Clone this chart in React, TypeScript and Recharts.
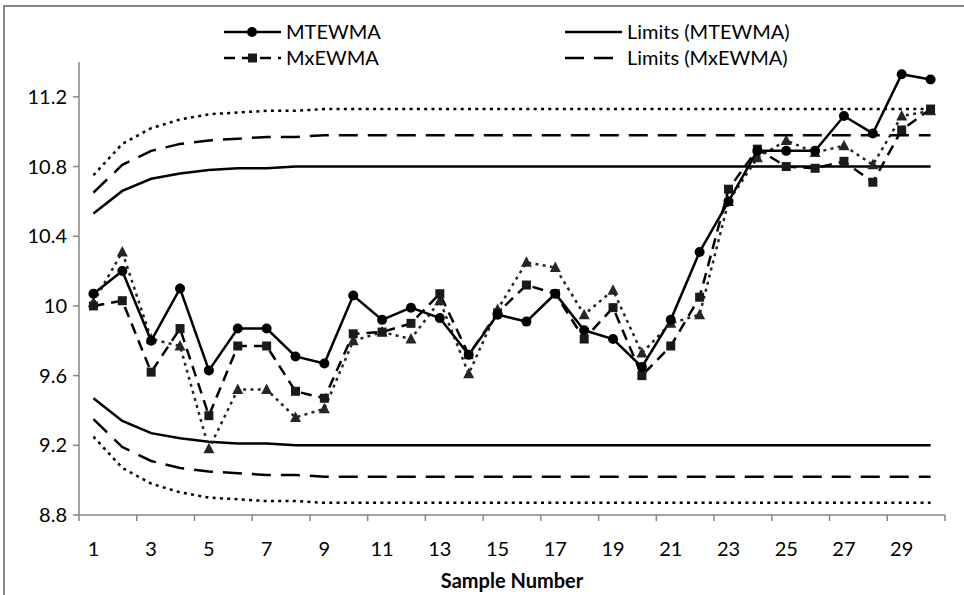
import { Legend, Line, LineChart, XAxis, YAxis } from "recharts";

const samples = [
  1, 2, 3, 4, 5, 6, 7, 8, 9, 10, 11, 12, 13, 14, 15, 16, 17, 18, 19, 20, 21,
  22, 23, 24, 25, 26, 27, 28, 29, 30,
];

const mtewma = [
  10.07, 10.2, 9.8, 10.1, 9.63, 9.87, 9.87, 9.71, 9.67, 10.06, 9.92, 9.99,
  9.93, 9.72, 9.95, 9.91, 10.07, 9.86, 9.81, 9.65, 9.92, 10.31, 10.6, 10.89,
  10.89, 10.89, 11.09, 10.99, 11.33, 11.3,
];

const mxewma = [
  10.0, 10.03, 9.62, 9.87, 9.37, 9.77, 9.77, 9.51, 9.47, 9.84, 9.85, 9.9,
  10.07, 9.72, 9.96, 10.12, 10.07, 9.81, 9.99, 9.6, 9.77, 10.05, 10.67, 10.9,
  10.8, 10.79, 10.83, 10.71, 11.01, 11.13,
];

// dotted series with triangles (not listed in the legend)
const mewma = [
  10.02, 10.31, 9.81, 9.77, 9.18, 9.52, 9.52, 9.36, 9.41, 9.8, 9.85, 9.81,
  10.03, 9.61, 9.98, 10.25, 10.22, 9.95, 10.09, 9.73, 9.9, 9.95, 10.6, 10.85,
  10.95, 10.88, 10.92, 10.81, 11.09, 11.12,
];

const uclMtewma = [
  10.53, 10.66, 10.73, 10.76, 10.78, 10.79, 10.79, 10.8, 10.8, 10.8, 10.8,
  10.8, 10.8, 10.8, 10.8, 10.8, 10.8, 10.8, 10.8, 10.8, 10.8, 10.8, 10.8, 10.8,
  10.8, 10.8, 10.8, 10.8, 10.8, 10.8,
];
const lclMtewma = [
  9.47, 9.34, 9.27, 9.24, 9.22, 9.21, 9.21, 9.2, 9.2, 9.2, 9.2, 9.2, 9.2, 9.2,
  9.2, 9.2, 9.2, 9.2, 9.2, 9.2, 9.2, 9.2, 9.2, 9.2, 9.2, 9.2, 9.2, 9.2, 9.2,
  9.2,
];
const uclMxewma = [
  10.65, 10.81, 10.89, 10.93, 10.95, 10.96, 10.97, 10.97, 10.98, 10.98, 10.98,
  10.98, 10.98, 10.98, 10.98, 10.98, 10.98, 10.98, 10.98, 10.98, 10.98, 10.98,
  10.98, 10.98, 10.98, 10.98, 10.98, 10.98, 10.98, 10.98,
];
const lclMxewma = [
  9.35, 9.19, 9.11, 9.07, 9.05, 9.04, 9.03, 9.03, 9.02, 9.02, 9.02, 9.02, 9.02,
  9.02, 9.02, 9.02, 9.02, 9.02, 9.02, 9.02, 9.02, 9.02, 9.02, 9.02, 9.02, 9.02,
  9.02, 9.02, 9.02, 9.02,
];
const uclMewma = [
  10.75, 10.93, 11.02, 11.07, 11.1, 11.11, 11.12, 11.12, 11.13, 11.13, 11.13,
  11.13, 11.13, 11.13, 11.13, 11.13, 11.13, 11.13, 11.13, 11.13, 11.13, 11.13,
  11.13, 11.13, 11.13, 11.13, 11.13, 11.13, 11.13, 11.13,
];
const lclMewma = [
  9.25, 9.07, 8.98, 8.93, 8.9, 8.89, 8.88, 8.88, 8.87, 8.87, 8.87, 8.87, 8.87,
  8.87, 8.87, 8.87, 8.87, 8.87, 8.87, 8.87, 8.87, 8.87, 8.87, 8.87, 8.87, 8.87,
  8.87, 8.87, 8.87, 8.87,
];

const yTicks = [8.8, 9.2, 9.6, 10, 10.4, 10.8, 11.2];
const xTickLabels = [1, 3, 5, 7, 9, 11, 13, 15, 17, 19, 21, 23, 25, 27, 29];

const data = samples.map((s, i) => ({
  sample: s,
  mtewma: mtewma[i],
  mxewma: mxewma[i],
  mewma: mewma[i],
  uclMtewma: uclMtewma[i],
  lclMtewma: lclMtewma[i],
  uclMxewma: uclMxewma[i],
  lclMxewma: lclMxewma[i],
  uclMewma: uclMewma[i],
  lclMewma: lclMewma[i],
}));

// labels sit on the category centres, tick marks on every second boundary
const xTicks = [
  ...xTickLabels.flatMap((v) => [v - 0.5, v]),
  samples.length + 0.5,
];

const FONT = "Lato, 'Open Sans', sans-serif";
const AXIS = "#868686";
const INK = "#000";
const DASH = "11 7";
const LONG_DASH = "19 10";
const DOT = "3 4.3";

const Circle = (p: any) => (
  <circle key={`c-${p.index}`} cx={p.cx} cy={p.cy} r={5} fill={INK} />
);
const Square = (p: any) => (
  <rect key={`s-${p.index}`} x={p.cx - 4.5} y={p.cy - 4.5} width={9} height={9} fill="#1a1a1a" />
);
const Triangle = (p: any) => (
  <polygon
    key={`t-${p.index}`}
    points={`${p.cx},${p.cy - 6} ${p.cx + 5.5},${p.cy + 4.5} ${p.cx - 5.5},${p.cy + 4.5}`}
    fill="#262626"
  />
);

const XTick = (props: any) => {
  const { x, y, payload } = props;
  const v = payload.value;
  if (Number.isInteger(v)) {
    return (
      <text x={x} y={y + 41} textAnchor="middle" fill={INK} fontSize={20} fontFamily={FONT}>
        {v}
      </text>
    );
  }
  return <line x1={x} x2={x} y1={y} y2={y + 6} stroke={AXIS} strokeWidth={1.5} />;
};

const LEGEND_SPOT: Record<string, { x: number; y: number; mark?: string }> = {
  mtewma: { x: 224, y: 32, mark: "circle" },
  uclMtewma: { x: 565, y: 32 },
  mxewma: { x: 224, y: 58, mark: "square" },
  uclMxewma: { x: 565, y: 58 },
};

const renderLegend = (props: any) => {
  const items = props.payload || [];
  return (
    <svg width={964} height={75}>
      {items.map((entry: any) => {
        const spot = LEGEND_SPOT[entry.dataKey];
        if (!spot) return null;
        const dash = entry.payload?.strokeDasharray;
        return (
          <g key={entry.dataKey}>
            <line
              x1={spot.x}
              x2={spot.x + 57}
              y1={spot.y}
              y2={spot.y}
              stroke={INK}
              strokeWidth={2.5}
              strokeDasharray={dash}
            />
            {spot.mark === "circle" && <circle cx={spot.x + 28} cy={spot.y} r={5} fill={INK} />}
            {spot.mark === "square" && (
              <rect x={spot.x + 24} y={spot.y - 4.5} width={9} height={9} fill="#1a1a1a" />
            )}
            <text
              x={spot.x + 62}
              y={spot.y}
              dy="0.35em"
              fill={INK}
              fontSize={20}
              fontFamily={FONT}
            >
              {entry.value}
            </text>
          </g>
        );
      })}
    </svg>
  );
};

export default function App() {
  return (
    <div style={{ position: "absolute", left: 0, top: 0, width: 964, height: 595, background: "#fff" }}>
      <div
        style={{
          position: "absolute",
          left: 3,
          top: 5,
          width: 970,
          height: 600,
          borderLeft: `2px solid ${AXIS}`,
          borderTop: `2px solid ${AXIS}`,
        }}
      />
      <LineChart
        width={964}
        height={595}
        data={data}
        margin={{ top: 62, right: 19, bottom: 0, left: 0 }}
      >
        <XAxis
          dataKey="sample"
          type="number"
          domain={[0.5, 30.5]}
          ticks={xTicks}
          interval={0}
          tickLine={false}
          tickSize={0}
          tickMargin={0}
          tick={<XTick />}
          axisLine={{ stroke: AXIS, strokeWidth: 1.5 }}
          height={80}
          label={{
            value: "Sample Number",
            position: "insideBottom",
            offset: 7,
            fill: INK,
            fontSize: 20,
            fontWeight: 700,
            fontFamily: FONT,
          }}
        />
        <YAxis
          type="number"
          domain={[8.8, 11.4]}
          ticks={yTicks}
          interval={0}
          width={79}
          tickSize={6}
          tickMargin={6}
          tickLine={{ stroke: AXIS, strokeWidth: 1.5 }}
          axisLine={{ stroke: AXIS, strokeWidth: 1.5 }}
          tick={{ fill: INK, fontSize: 20, fontFamily: FONT }}
        />
        <Legend
          layout="vertical"
          align="center"
          verticalAlign="middle"
          wrapperStyle={{ top: 0, left: 0, width: 964, height: 75 }}
          content={renderLegend}
        />

        <Line dataKey="uclMewma" name="Limits (MEWMA)" legendType="none" stroke={INK} strokeWidth={2.5} strokeDasharray={DOT} dot={false} activeDot={false} isAnimationActive={false} />
        <Line dataKey="lclMewma" name="Limits (MEWMA)" legendType="none" stroke={INK} strokeWidth={2.5} strokeDasharray={DOT} dot={false} activeDot={false} isAnimationActive={false} />
        <Line dataKey="uclMtewma" name="Limits (MTEWMA)" stroke={INK} strokeWidth={2.5} dot={false} activeDot={false} isAnimationActive={false} />
        <Line dataKey="lclMtewma" name="Limits (MTEWMA)" legendType="none" stroke={INK} strokeWidth={2.5} dot={false} activeDot={false} isAnimationActive={false} />
        <Line dataKey="uclMxewma" name="Limits (MxEWMA)" stroke={INK} strokeWidth={2.5} strokeDasharray={LONG_DASH} dot={false} activeDot={false} isAnimationActive={false} />
        <Line dataKey="lclMxewma" name="Limits (MxEWMA)" legendType="none" stroke={INK} strokeWidth={2.5} strokeDasharray={LONG_DASH} dot={false} activeDot={false} isAnimationActive={false} />

        <Line dataKey="mewma" name="MEWMA" legendType="none" stroke="#262626" strokeWidth={2.5} strokeDasharray={DOT} dot={Triangle} activeDot={false} isAnimationActive={false} />
        <Line dataKey="mxewma" name="MxEWMA" stroke={INK} strokeWidth={2.5} strokeDasharray={DASH} dot={Square} activeDot={false} isAnimationActive={false} />
        <Line dataKey="mtewma" name="MTEWMA" stroke={INK} strokeWidth={2.5} dot={Circle} activeDot={false} isAnimationActive={false} />
      </LineChart>
    </div>
  );
}
